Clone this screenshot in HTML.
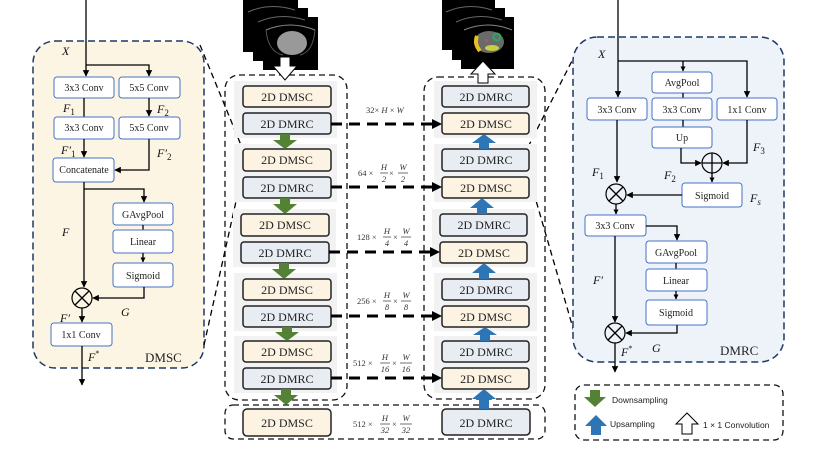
<!DOCTYPE html>
<html><head><meta charset="utf-8"><style>
html,body{margin:0;padding:0;background:#fff;width:831px;height:449px;overflow:hidden}
svg{display:block}
text{font-family:"Liberation Serif",serif}
.b{fill:#fff;stroke:#4472c4;stroke-width:1}
.bt{font-size:10px;text-anchor:middle;fill:#222}
.l{stroke:#000;stroke-width:1.3;fill:none}
.it{font-style:italic;font-size:12px;fill:#111}
.sc{fill:#fdf3e3;stroke:#222;stroke-width:1.5}
.rc{fill:#e8edf4;stroke:#222;stroke-width:1.5}
.ct{font-size:12px;text-anchor:middle;fill:#222}
.fr{font-size:8.5px;fill:#333}
.fi{font-size:8.5px;font-style:italic;fill:#333;text-anchor:middle}
</style></head><body>
<svg width="831" height="449" viewBox="0 0 831 449" xmlns="http://www.w3.org/2000/svg">
<defs>
<marker id="a" viewBox="0 0 10 10" refX="9" refY="5" markerWidth="5" markerHeight="5" orient="auto"><path d="M0,0L10,5L0,10z" fill="#000"/></marker>
<marker id="a2" viewBox="0 0 10 10" refX="9" refY="5" markerWidth="4" markerHeight="4" orient="auto"><path d="M0,0L10,5L0,10z" fill="#000"/></marker>
</defs>

<!-- LEFT DMSC PANEL -->
<rect x="33" y="41" width="171" height="327" rx="22" fill="#fdf5e4" stroke="#1f3864" stroke-width="1.5" stroke-dasharray="7,4"/>
<line class="l" x1="86" y1="0" x2="86" y2="76" marker-end="url(#a)"/>
<polyline class="l" points="86,65 149,65 149,76" marker-end="url(#a)"/>
<text class="it" x="62" y="55">X</text>
<rect class="b" x="54" y="77" width="60" height="21" rx="3"/><text class="bt" x="84" y="91">3x3 Conv</text>
<rect class="b" x="119" y="77" width="61" height="21" rx="3"/><text class="bt" x="149" y="91">5x5 Conv</text>
<line class="l" x1="84" y1="98" x2="84" y2="117"/>
<line class="l" x1="149" y1="98" x2="149" y2="116" marker-end="url(#a)"/>
<text class="it" x="63" y="112">F<tspan font-size="9" dy="3" font-style="normal">1</tspan></text>
<text class="it" x="157" y="113">F<tspan font-size="9" dy="3" font-style="normal">2</tspan></text>
<rect class="b" x="54" y="117" width="60" height="22" rx="3"/><text class="bt" x="84" y="131">3x3 Conv</text>
<rect class="b" x="119" y="117" width="61" height="22" rx="3"/><text class="bt" x="149" y="131">5x5 Conv</text>
<line class="l" x1="84" y1="139" x2="84" y2="157" marker-end="url(#a)"/>
<polyline class="l" points="149,139 149,170 115,170" marker-end="url(#a)"/>
<text class="it" x="61" y="154">F′<tspan font-size="9" dy="3" font-style="normal">1</tspan></text>
<text class="it" x="157" y="157">F′<tspan font-size="9" dy="3" font-style="normal">2</tspan></text>
<rect class="b" x="53" y="158" width="61" height="24" rx="3"/><text class="bt" x="84" y="173" font-size="8.5">Concatenate</text>
<line class="l" x1="84" y1="182" x2="84" y2="287" marker-end="url(#a)"/>
<polyline class="l" points="84,189 144,189 144,202" marker-end="url(#a)"/>
<text class="it" x="62" y="236">F</text>
<rect class="b" x="113" y="203" width="60" height="22" rx="3"/><text class="bt" x="143" y="218">GAvgPool</text>
<line class="l" x1="143" y1="225" x2="143" y2="230"/>
<rect class="b" x="113" y="230" width="60" height="23" rx="3"/><text class="bt" x="143" y="245">Linear</text>
<line class="l" x1="143" y1="253" x2="143" y2="262" marker-end="url(#a2)"/>
<rect class="b" x="113" y="263" width="60" height="24" rx="3"/><text class="bt" x="143" y="279">Sigmoid</text>
<polyline class="l" points="144,287 144,298 93,298" marker-end="url(#a)"/>
<circle cx="82" cy="298" r="10" fill="none" stroke="#000" stroke-width="1.2"/>
<line class="l" x1="75" y1="291" x2="89" y2="305"/><line class="l" x1="89" y1="291" x2="75" y2="305"/>
<text class="it" x="121" y="316">G</text>
<text class="it" x="60" y="322">F′</text>
<line class="l" x1="82" y1="308" x2="82" y2="322" marker-end="url(#a)"/>
<rect class="b" x="51" y="323" width="61" height="23" rx="3"/><text class="bt" x="81" y="338">1x1 Conv</text>
<line class="l" x1="82" y1="346" x2="82" y2="385" marker-end="url(#a)"/>
<text class="it" x="88" y="361">F<tspan font-size="8" dy="-5" font-style="normal">*</tspan></text>
<text x="145" y="362" font-size="13" fill="#222">DMSC</text>

<!-- zoom lines -->
<line x1="200" y1="45" x2="243" y2="150" stroke="#000" stroke-width="1.3" stroke-dasharray="6,4"/>
<line x1="204" y1="345" x2="243" y2="170" stroke="#000" stroke-width="1.3" stroke-dasharray="6,4"/>
<line x1="528" y1="147" x2="575" y2="55" stroke="#000" stroke-width="1.3" stroke-dasharray="6,4"/>
<line x1="528" y1="173" x2="575" y2="335" stroke="#000" stroke-width="1.3" stroke-dasharray="6,4"/>

<!-- images -->
<g>
<rect x="243" y="0" width="55" height="52" fill="#000"/><rect x="253" y="8" width="55" height="53" fill="#000"/><rect x="263" y="17" width="55" height="53" fill="#000"/>
<path d="M248,12 Q270,2 295,10" stroke="#666" fill="none"/><path d="M258,22 Q280,12 305,20" stroke="#666" fill="none"/>
<path d="M266,30 Q290,20 315,30" stroke="#888" fill="none"/>
<ellipse cx="292" cy="43" rx="15" ry="12" fill="#999"/>
<path d="M266,30 Q268,52 283,55" stroke="#555" fill="none"/><path d="M315,30 Q313,52 300,55" stroke="#555" fill="none"/>
</g>
<g>
<rect x="442" y="0" width="53" height="50" fill="#000"/><rect x="452" y="8" width="53" height="52" fill="#000"/><rect x="461" y="17" width="53" height="52" fill="#000"/>
<path d="M446,12 Q468,2 492,10" stroke="#666" fill="none"/><path d="M456,22 Q478,12 502,20" stroke="#666" fill="none"/>
<path d="M464,30 Q488,20 512,30" stroke="#888" fill="none"/>
<ellipse cx="489" cy="42" rx="15" ry="11" fill="#6a6a6a"/>
<path d="M477,36 q-3,8 3,15" stroke="#e8c020" stroke-width="4" fill="none"/>
<ellipse cx="492" cy="48" rx="7" ry="3" fill="#c8d040"/>
<circle cx="497" cy="37" r="3.5" fill="none" stroke="#2aa860" stroke-width="2"/>
<rect x="485" y="39" width="3" height="3" fill="#d04080"/>
</g>

<!-- center containers -->
<rect x="225" y="75" width="122" height="325" rx="14" fill="none" stroke="#111" stroke-width="1.3" stroke-dasharray="6,4"/>
<rect x="424" y="77" width="121" height="322" rx="14" fill="none" stroke="#111" stroke-width="1.3" stroke-dasharray="6,4"/>
<rect x="225" y="405" width="320" height="34" rx="8" fill="none" stroke="#111" stroke-width="1.3" stroke-dasharray="6,4"/>
<!-- gray bands -->
<g fill="#f2f2f2">
<rect x="234" y="81" width="103" height="57"/><rect x="234" y="144" width="103" height="58"/><rect x="233" y="209" width="103" height="58"/><rect x="234" y="273" width="103" height="58"/><rect x="234" y="336" width="103" height="57"/>
<rect x="434" y="81" width="103" height="57"/><rect x="434" y="144" width="103" height="58"/><rect x="432" y="209" width="103" height="58"/><rect x="434" y="273" width="103" height="58"/><rect x="434" y="336" width="103" height="57"/>
</g>
<!-- hollow arrows -->
<path d="M280,57 h10 v9 h7 l-12,14 l-12,-14 h7z" fill="#fff" stroke="#000" stroke-width="1"/>
<path d="M478,83 h10 v-9 h7 l-12,-13 l-12,13 h7z" fill="#fff" stroke="#000" stroke-width="1"/>

<!-- encoder boxes -->
<rect class="sc" x="243" y="86" width="88" height="21" rx="3"/><text class="ct" x="287" y="101">2D DMSC</text>
<rect class="rc" x="243" y="113" width="88" height="21" rx="3"/><text class="ct" x="287" y="128">2D DMRC</text>
<rect class="sc" x="243" y="149" width="88" height="22" rx="3"/><text class="ct" x="287" y="164">2D DMSC</text>
<rect class="rc" x="243" y="177" width="88" height="21" rx="3"/><text class="ct" x="287" y="192">2D DMRC</text>
<rect class="sc" x="241" y="214" width="88" height="22" rx="3"/><text class="ct" x="285" y="229">2D DMSC</text>
<rect class="rc" x="241" y="242" width="88" height="21" rx="3"/><text class="ct" x="285" y="257">2D DMRC</text>
<rect class="sc" x="243" y="279" width="88" height="21" rx="3"/><text class="ct" x="287" y="294">2D DMSC</text>
<rect class="rc" x="243" y="306" width="88" height="21" rx="3"/><text class="ct" x="287" y="321">2D DMRC</text>
<rect class="sc" x="243" y="341" width="88" height="21" rx="3"/><text class="ct" x="287" y="356">2D DMSC</text>
<rect class="rc" x="243" y="368" width="88" height="21" rx="3"/><text class="ct" x="287" y="383">2D DMRC</text>
<rect class="sc" x="243" y="409" width="88" height="27" rx="4"/><text class="ct" x="287" y="427">2D DMSC</text>
<!-- decoder boxes -->
<rect class="rc" x="442" y="86" width="87" height="21" rx="3"/><text class="ct" x="486" y="101">2D DMRC</text>
<rect class="sc" x="442" y="113" width="87" height="21" rx="3"/><text class="ct" x="486" y="128">2D DMSC</text>
<rect class="rc" x="442" y="149" width="87" height="22" rx="3"/><text class="ct" x="486" y="164">2D DMRC</text>
<rect class="sc" x="442" y="177" width="87" height="21" rx="3"/><text class="ct" x="486" y="192">2D DMSC</text>
<rect class="rc" x="440" y="214" width="87" height="22" rx="3"/><text class="ct" x="484" y="229">2D DMRC</text>
<rect class="sc" x="440" y="242" width="87" height="21" rx="3"/><text class="ct" x="484" y="257">2D DMSC</text>
<rect class="rc" x="442" y="279" width="87" height="21" rx="3"/><text class="ct" x="486" y="294">2D DMRC</text>
<rect class="sc" x="442" y="306" width="87" height="21" rx="3"/><text class="ct" x="486" y="321">2D DMSC</text>
<rect class="rc" x="442" y="341" width="87" height="21" rx="3"/><text class="ct" x="486" y="356">2D DMRC</text>
<rect class="sc" x="442" y="368" width="87" height="21" rx="3"/><text class="ct" x="486" y="383">2D DMSC</text>
<rect class="rc" x="442" y="409" width="88" height="26" rx="4"/><text class="ct" x="486" y="427">2D DMRC</text>

<!-- green arrows -->
<g fill="#548235">
<path d="M280,134 h10 v6 h7 l-12,9 l-12,-9 h7z"/>
<path d="M280,198 h10 v6 h7 l-12,10 l-12,-10 h7z"/>
<path d="M279,263 h10 v6 h7 l-12,10 l-12,-10 h7z"/>
<path d="M282,327 h10 v5 h7 l-12,9 l-12,-9 h7z"/>
<path d="M281,389 h10 v6 h7 l-12,10 l-12,-10 h7z"/>
</g>
<!-- blue arrows -->
<g fill="#2e75b6">
<path d="M479,149 h10 v-6 h7 l-12,-9 l-12,9 h7z"/>
<path d="M477,214 h10 v-6 h7 l-12,-10 l-12,10 h7z"/>
<path d="M479,279 h10 v-6 h7 l-12,-10 l-12,10 h7z"/>
<path d="M480,341 h10 v-6 h7 l-12,-8 l-12,8 h7z"/>
<path d="M479,409 h10 v-10 h7 l-12,-10 l-12,10 h7z"/>
</g>

<!-- skip connections -->
<g stroke="#000" stroke-width="3" stroke-dasharray="11,7" fill="none">
<line x1="331" y1="124" x2="433" y2="124"/>
<line x1="331" y1="187" x2="433" y2="187"/>
<line x1="329" y1="252" x2="431" y2="252"/>
<line x1="331" y1="316" x2="433" y2="316"/>
<line x1="331" y1="378" x2="433" y2="378"/>
</g>
<g fill="#000">
<path d="M432,119 L442,124 L432,129z"/><path d="M432,182 L442,187 L432,192z"/><path d="M430,247 L440,252 L430,257z"/><path d="M432,311 L442,316 L432,321z"/><path d="M432,373 L442,378 L432,383z"/>
</g>

<!-- dimension labels -->
<text class="fr" x="366" y="113">32× <tspan font-style="italic">H</tspan> × <tspan font-style="italic">W</tspan></text>
<g>
<text class="fr" x="358" y="176">64 ×</text><text class="fi" x="384" y="170">H</text><line x1="380" y1="173" x2="388" y2="173" stroke="#333" stroke-width=".7"/><text class="fi" x="384" y="182">2</text><text class="fr" x="389" y="176">×</text><text class="fi" x="403" y="170">W</text><line x1="398" y1="173" x2="408" y2="173" stroke="#333" stroke-width=".7"/><text class="fi" x="403" y="182">2</text>
</g>
<g>
<text class="fr" x="357" y="240">128 ×</text><text class="fi" x="387" y="234">H</text><line x1="383" y1="237" x2="391" y2="237" stroke="#333" stroke-width=".7"/><text class="fi" x="387" y="246">4</text><text class="fr" x="393" y="240">×</text><text class="fi" x="406" y="234">W</text><line x1="401" y1="237" x2="411" y2="237" stroke="#333" stroke-width=".7"/><text class="fi" x="406" y="246">4</text>
</g>
<g>
<text class="fr" x="357" y="304">256 ×</text><text class="fi" x="387" y="298">H</text><line x1="383" y1="301" x2="391" y2="301" stroke="#333" stroke-width=".7"/><text class="fi" x="387" y="310">8</text><text class="fr" x="393" y="304">×</text><text class="fi" x="406" y="298">W</text><line x1="401" y1="301" x2="411" y2="301" stroke="#333" stroke-width=".7"/><text class="fi" x="406" y="310">8</text>
</g>
<g>
<text class="fr" x="353" y="366">512 ×</text><text class="fi" x="385" y="360">H</text><line x1="380" y1="363" x2="390" y2="363" stroke="#333" stroke-width=".7"/><text class="fi" x="385" y="372">16</text><text class="fr" x="392" y="366">×</text><text class="fi" x="406" y="360">W</text><line x1="400" y1="363" x2="412" y2="363" stroke="#333" stroke-width=".7"/><text class="fi" x="406" y="372">16</text>
</g>
<g>
<text class="fr" x="353" y="427">512 ×</text><text class="fi" x="385" y="421">H</text><line x1="380" y1="424" x2="390" y2="424" stroke="#333" stroke-width=".7"/><text class="fi" x="385" y="433">32</text><text class="fr" x="392" y="427">×</text><text class="fi" x="406" y="421">W</text><line x1="400" y1="424" x2="412" y2="424" stroke="#333" stroke-width=".7"/><text class="fi" x="406" y="433">32</text>
</g>

<!-- RIGHT DMRC PANEL -->
<rect x="573" y="37" width="211" height="325" rx="24" fill="#eef3fa" stroke="#1f3864" stroke-width="1.5" stroke-dasharray="7,4"/>
<line class="l" x1="618" y1="0" x2="618" y2="97" marker-end="url(#a)"/>
<polyline class="l" points="618,61 747,61 747,97" marker-end="url(#a)"/>
<line class="l" x1="683" y1="61" x2="683" y2="71" marker-end="url(#a2)"/>
<text class="it" x="598" y="58">X</text>
<rect class="b" x="652" y="72" width="60" height="21" rx="3"/><text class="bt" x="682" y="86">AvgPool</text>
<line class="l" x1="683" y1="93" x2="683" y2="98"/>
<rect class="b" x="587" y="98" width="60" height="22" rx="3"/><text class="bt" x="617" y="113">3x3 Conv</text>
<rect class="b" x="652" y="98" width="60" height="22" rx="3"/><text class="bt" x="682" y="113">3x3 Conv</text>
<rect class="b" x="717" y="98" width="60" height="22" rx="3"/><text class="bt" x="747" y="113">1x1 Conv</text>
<line class="l" x1="683" y1="120" x2="683" y2="127"/>
<rect class="b" x="652" y="127" width="60" height="21" rx="3"/><text class="bt" x="682" y="141">Up</text>
<polyline class="l" points="681,148 681,163 701,163" marker-end="url(#a)"/>
<polyline class="l" points="747,120 747,163 723,163" marker-end="url(#a)"/>
<circle cx="712" cy="163" r="10" fill="none" stroke="#000" stroke-width="1.2"/>
<line class="l" x1="702" y1="163" x2="722" y2="163"/><line class="l" x1="712" y1="153" x2="712" y2="173"/>
<line class="l" x1="712" y1="173" x2="712" y2="182" marker-end="url(#a2)"/>
<text class="it" x="753" y="151">F<tspan font-size="9" dy="3" font-style="normal">3</tspan></text>
<rect class="b" x="682" y="183" width="60" height="24" rx="3"/><text class="bt" x="712" y="199">Sigmoid</text>
<text class="it" x="750" y="202">F<tspan font-size="9" dy="3" font-style="italic">s</tspan></text>
<text class="it" x="592" y="176">F<tspan font-size="9" dy="3" font-style="normal">1</tspan></text>
<text class="it" x="664" y="179">F<tspan font-size="9" dy="3" font-style="normal">2</tspan></text>
<line class="l" x1="617" y1="120" x2="617" y2="182" marker-end="url(#a)"/>
<line class="l" x1="682" y1="195" x2="627" y2="195" marker-end="url(#a)"/>
<circle cx="616" cy="194" r="10" fill="none" stroke="#000" stroke-width="1.2"/>
<line class="l" x1="609" y1="187" x2="623" y2="201"/><line class="l" x1="623" y1="187" x2="609" y2="201"/>
<line class="l" x1="616" y1="204" x2="616" y2="214" marker-end="url(#a2)"/>
<rect class="b" x="585" y="215" width="61" height="21" rx="3"/><text class="bt" x="615" y="229">3x3 Conv</text>
<polyline class="l" points="646,226 677,226 677,240" marker-end="url(#a)"/>
<line class="l" x1="615" y1="236" x2="615" y2="322" marker-end="url(#a)"/>
<text class="it" x="593" y="284">F′</text>
<rect class="b" x="646" y="241" width="61" height="22" rx="3"/><text class="bt" x="676" y="256">GAvgPool</text>
<line class="l" x1="676" y1="263" x2="676" y2="269"/>
<rect class="b" x="646" y="269" width="61" height="22" rx="3"/><text class="bt" x="676" y="284">Linear</text>
<line class="l" x1="676" y1="291" x2="676" y2="299" marker-end="url(#a2)"/>
<rect class="b" x="646" y="300" width="61" height="25" rx="3"/><text class="bt" x="676" y="316">Sigmoid</text>
<polyline class="l" points="677,325 677,333 626,333" marker-end="url(#a)"/>
<circle cx="615" cy="333" r="10" fill="none" stroke="#000" stroke-width="1.2"/>
<line class="l" x1="608" y1="326" x2="622" y2="340"/><line class="l" x1="622" y1="326" x2="608" y2="340"/>
<line class="l" x1="615" y1="343" x2="615" y2="372" marker-end="url(#a)"/>
<text class="it" x="621" y="356">F<tspan font-size="8" dy="-5" font-style="normal">*</tspan></text>
<text class="it" x="652" y="352">G</text>
<text x="720" y="355" font-size="13" fill="#222">DMRC</text>

<!-- legend -->
<rect x="575" y="385" width="208" height="55" rx="9" fill="none" stroke="#111" stroke-width="1.3" stroke-dasharray="6,4"/>
<path d="M590,390 h10 v7 h6 l-11,10 l-11,-10 h6z" fill="#548235"/>
<text x="612" y="403" font-family="Liberation Sans, sans-serif" font-size="8.5" fill="#222" style="font-family:'Liberation Sans',sans-serif">Downsampling</text>
<path d="M591,435 h10 v-9 h6 l-11,-11 l-11,11 h6z" fill="#2e75b6"/>
<text x="610" y="427" font-size="8.5" fill="#222" style="font-family:'Liberation Sans',sans-serif">Upsampling</text>
<path d="M682,434 h10 v-10 h6 l-11,-11 l-11,11 h6z" fill="#fff" stroke="#000" stroke-width="1"/>
<text x="703" y="428" font-size="8.5" fill="#222" style="font-family:'Liberation Sans',sans-serif">1 × 1 Convolution</text>
</svg>
</body></html>
